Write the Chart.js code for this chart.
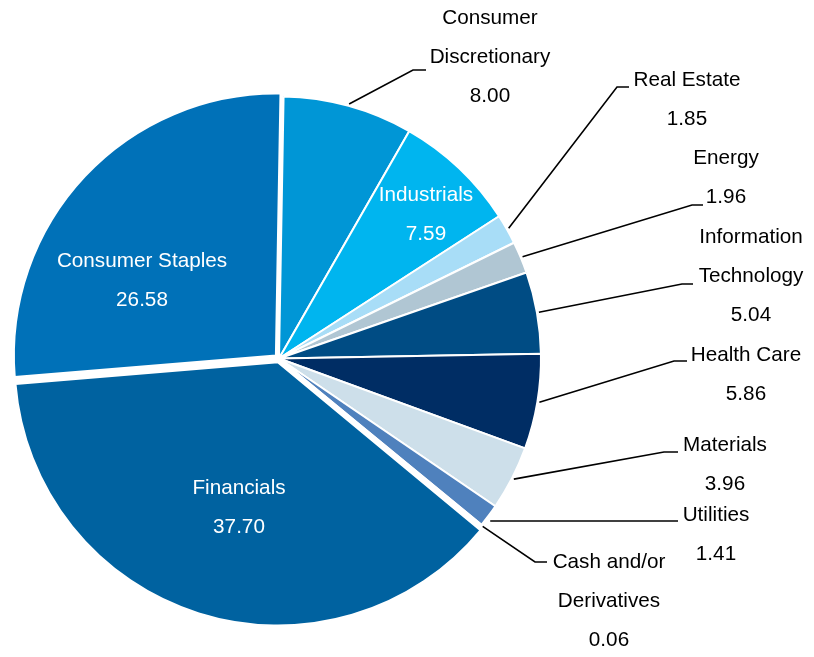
<!DOCTYPE html>
<html>
<head>
<meta charset="utf-8">
<script src="https://cdn.jsdelivr.net/npm/chart.js@4/dist/chart.umd.min.js"></script>
<style>
  html, body { margin: 0; padding: 0; background: #fff; }
  #wrap { width: 814px; height: 657px; }
</style>
</head>
<body>
<div id="wrap"><canvas id="sector-chart" width="814" height="657"></canvas></div>
<script>
// sector weights (%), clockwise from 12 o'clock
var sectors = ['Consumer Discretionary', 'Industrials', 'Real Estate', 'Energy',
  'Information Technology', 'Health Care', 'Materials', 'Utilities',
  'Cash and/or Derivatives', 'Financials', 'Consumer Staples'];
var weights = [8.00, 7.59, 1.85, 1.96, 5.04, 5.86, 3.96, 1.41, 0.06, 37.70, 26.58];

var sliceColors = ['#0096d6', '#00b5ef', '#a8ddf7', '#b0c6d3', '#004c84', '#002d64',
  '#cddfea', '#4f81bd', '#8eb4e3', '#0062a0', '#0071b8'];
var sliceOffsets = [0, 0, 0, 0, 0, 0, 0, 0, 0, 16, 17];

// how the long names wrap
var wrapped = {
  'Consumer Discretionary': ['Consumer', 'Discretionary'],
  'Information Technology': ['Information', 'Technology'],
  'Cash and/or Derivatives': ['Cash and/or', 'Derivatives']
};

// label placement: text centre of first line, leader elbow and end
var labelPlaces = [
  { x: 490, y: 18, elbow: [413, 70], end: [426, 70] },
  { x: 426, y: 195, inside: true },
  { x: 687, y: 80, elbow: [617, 87], end: [629, 87] },
  { x: 726, y: 158, elbow: [692, 205], end: [703, 205] },
  { x: 751, y: 237, elbow: [682, 284], end: [693, 284] },
  { x: 746, y: 355, elbow: [674, 361], end: [687, 361] },
  { x: 725, y: 445, elbow: [664, 452], end: [678, 452] },
  { x: 716, y: 515, elbow: [678, 521], end: [678, 521], flat: true },
  { x: 609, y: 562, elbow: [535, 562], end: [547, 562] },
  { x: 239, y: 488, inside: true },
  { x: 142, y: 261, inside: true }
];
var lineGap = 39;

// 라벨과 지시선을 그리는 플러그인
var sectorLabels = {
  id: 'sectorLabels',
  afterDraw: function (chart) {
    var ctx = chart.ctx;
    var arcs = chart.getDatasetMeta(0).data;
    ctx.save();
    ctx.font = '20.7px "Liberation Sans", Arial, sans-serif';
    ctx.textAlign = 'center';
    ctx.textBaseline = 'middle';
    arcs.forEach(function (arc, i) {
      var place = labelPlaces[i];
      var name = sectors[i];
      var lines = place.inside ? [name] : (wrapped[name] || [name]);
      lines = lines.concat([weights[i].toFixed(2)]);
      ctx.fillStyle = place.inside ? '#ffffff' : '#000000';
      lines.forEach(function (t, k) {
        ctx.fillText(t, place.x, place.y + k * lineGap);
      });
      if (place.inside) return;
      var p = arc.getProps(['x', 'y', 'startAngle', 'endAngle', 'outerRadius'], true);
      var mid = (p.startAngle + p.endAngle) / 2;
      var r = p.outerRadius + 2;
      var sx = p.x + Math.cos(mid) * r;
      var sy = p.y + Math.sin(mid) * r;
      if (place.flat) sy = place.elbow[1];
      ctx.strokeStyle = '#000000';
      ctx.lineWidth = 1.6;
      ctx.beginPath();
      ctx.moveTo(sx, sy);
      ctx.lineTo(place.elbow[0], place.elbow[1]);
      ctx.lineTo(place.end[0], place.end[1]);
      ctx.stroke();
    });
    ctx.restore();
  }
};

var sectorChart = new Chart(document.getElementById('sector-chart'), {
  type: 'pie',
  data: {
    labels: sectors,
    datasets: [{
      data: weights,
      backgroundColor: sliceColors,
      borderColor: '#ffffff',
      borderWidth: 2,
      offset: sliceOffsets
    }]
  },
  options: {
    responsive: false,
    animation: false,
    rotation: 1,
    radius: 262,
    layout: { padding: { left: 0, right: 256, top: 60, bottom: 0 } },
    plugins: {
      legend: { display: false },
      tooltip: { enabled: false }
    }
  },
  plugins: [sectorLabels]
});
</script>
</body>
</html>
